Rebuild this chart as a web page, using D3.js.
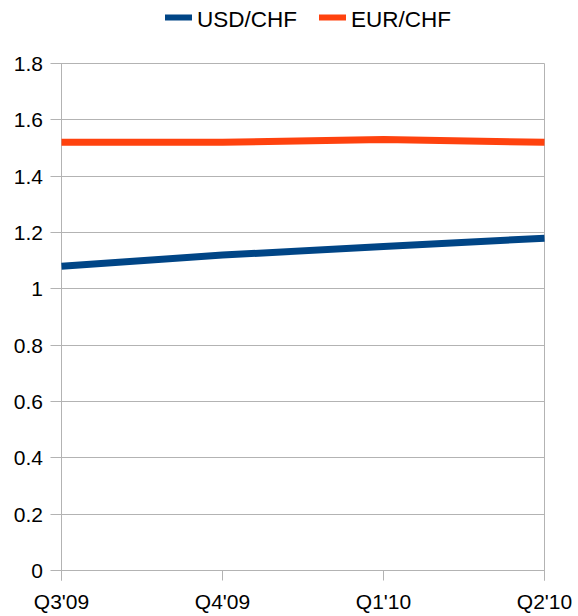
<!DOCTYPE html>
<html>
<head>
<meta charset="utf-8">
<script src="https://cdn.jsdelivr.net/npm/d3@7"></script>
<style>
  html, body { margin: 0; padding: 0; background: #fff; }
  svg { display: block; font-family: "Liberation Sans", Arial, sans-serif; }
</style>
</head>
<body>
<svg id="chart" width="578" height="616"></svg>
<script>
const categories = ["Q3'09", "Q4'09", "Q1'10", "Q2'10"];
const usdChf = [1.08, 1.12, 1.15, 1.18];
const eurChf = [1.52, 1.52, 1.53, 1.52];
const seriesNames = ["USD/CHF", "EUR/CHF"];
const seriesColors = ["#004586", "#ff420e"];
const yTicks = [0, 0.2, 0.4, 0.6, 0.8, 1, 1.2, 1.4, 1.6, 1.8];

const series = [
  { name: seriesNames[0], color: seriesColors[0], values: usdChf },
  { name: seriesNames[1], color: seriesColors[1], values: eurChf }
];

(function () {
const svg = d3.select("#chart");
const pLeft = 61.5, pRight = 544.5, pTop = 63.5, pBottom = 570.5;

const x = d3.scalePoint().domain(categories).range([pLeft, pRight]);
const y = d3.scaleLinear().domain([0, 1.8]).range([pBottom, pTop]);

const gridColor = "#b3b3b3";

// horizontal gridlines
svg.append("g").selectAll("line").data(yTicks).join("line")
  .attr("x1", pLeft - 11).attr("x2", pRight)
  .attr("y1", d => Math.round(y(d) - 0.5) + 0.5)
  .attr("y2", d => Math.round(y(d) - 0.5) + 0.5)
  .attr("stroke", gridColor).attr("stroke-width", 1);

// left axis line and right border
svg.append("line").attr("x1", pLeft).attr("x2", pLeft).attr("y1", pTop).attr("y2", pBottom + 10)
  .attr("stroke", gridColor);
svg.append("line").attr("x1", pRight).attr("x2", pRight).attr("y1", pTop).attr("y2", pBottom + 10)
  .attr("stroke", gridColor);

// x ticks
svg.append("g").selectAll("line").data(categories).join("line")
  .attr("x1", d => x(d)).attr("x2", d => x(d))
  .attr("y1", pBottom).attr("y2", pBottom + 10)
  .attr("stroke", gridColor);

// y labels
svg.append("g").selectAll("text").data(yTicks).join("text")
  .attr("x", 43).attr("y", d => y(d))
  .attr("dy", "0.36em")
  .attr("text-anchor", "end")
  .attr("font-size", 21)
  .attr("fill", "#000")
  .text(d => d3.format("~g")(d));

// x labels
svg.append("g").selectAll("text").data(categories).join("text")
  .attr("x", d => x(d)).attr("y", 609)
  .attr("text-anchor", "middle")
  .attr("font-size", 21)
  .attr("fill", "#000")
  .text(d => d);

// lines
const line = d3.line()
  .x((d, i) => x(categories[i]))
  .y(d => y(d));

svg.append("g").selectAll("path").data(series).join("path")
  .attr("d", d => line(d.values))
  .attr("fill", "none")
  .attr("stroke", d => d.color)
  .attr("stroke-width", 7)
  .attr("stroke-linejoin", "round");

// legend
const legendItems = [
  { s: series[0], x0: 165, tx: 197 },
  { s: series[1], x0: 319, tx: 351 }
];
const lg = svg.append("g");
legendItems.forEach(it => {
  lg.append("rect")
    .attr("x", it.x0).attr("y", 14.5)
    .attr("width", 27).attr("height", 6)
    .attr("fill", it.s.color);
  lg.append("text")
    .attr("x", it.tx).attr("y", 27)
    .attr("font-size", 22.5)
    .attr("fill", "#000")
    .text(it.s.name);
});
})();
</script>
</body>
</html>
